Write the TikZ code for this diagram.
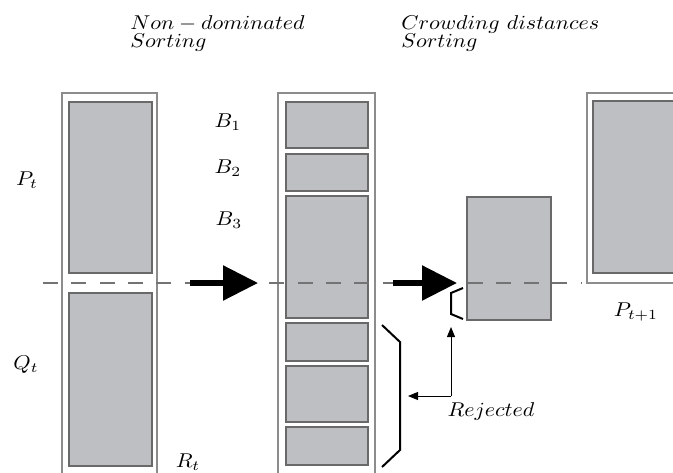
\documentclass[tikz,border=0pt]{standalone}
\usepackage{graphicx}
\usetikzlibrary{arrows.meta}
\definecolor{boxfill}{RGB}{190,191,194}
\definecolor{boxedge}{RGB}{105,105,105}
\definecolor{frameedge}{RGB}{140,140,140}
\definecolor{dashgray}{RGB}{115,115,115}
\newcommand\widetext[1]{\scalebox{1.1}[1]{#1}}
\begin{document}
\begin{tikzpicture}[x=0.5pt,y=-0.5pt,
  frame/.style={draw=frameedge,line width=0.65pt},
  block/.style={draw=boxedge,fill=boxfill,line width=0.7pt},
  bigarrow/.style={line width=2.8pt,-{Triangle[length=17.5pt,width=17pt]}},
  thinarrow/.style={line width=0.5pt,-{Triangle[length=5pt,width=4pt]}},
  bracketline/.style={line width=1pt},
  lab/.style={font=\fontsize{10}{11}\selectfont, inner sep=0pt},
  divider/.style={draw=dashgray,line width=0.7pt,dash pattern=on 7.5pt off 6.65pt},
]
\useasboundingbox (0,0) rectangle (673,472);
\begin{scope}
\clip (0,0) rectangle (673,472);
% left column R_t
\draw[frame] (62,93) rectangle (157,490);
\draw[block] (69,102) rectangle (152,273);
\draw[block] (69,293) rectangle (152,466);
% middle column
\draw[frame] (278,93) rectangle (375,490);
\draw[block] (286,102) rectangle (368,148);
\draw[block] (286,154) rectangle (368,191);
\draw[block] (286,196) rectangle (368,318);
\draw[block] (286,323) rectangle (368,361);
\draw[block] (286,366) rectangle (368,422);
\draw[block] (286,427) rectangle (368,465);
% selected part of last front
\draw[block] (467,197) rectangle (551,320);
% right column P_{t+1}
\draw[frame] (587,93) rectangle (700,283);
\draw[block] (593,101) rectangle (700,273);
\end{scope}
% dashed divider
\coordinate (dl) at (43,283);
\coordinate (dr) at (582,283);
\draw[divider] (dl) -- (dr);
% big arrows
\coordinate (a1s) at (190,283);
\coordinate (a1e) at (258,283);
\coordinate (a2s) at (393,283);
\coordinate (a2e) at (457,283);
\draw[bigarrow] (a1s) -- (a1e);
\draw[bigarrow] (a2s) -- (a2e);
% brackets
\coordinate (bb1) at (382,325);
\coordinate (bb2) at (400,342);
\coordinate (bb3) at (400,450);
\coordinate (bb4) at (382,467);
\draw[bracketline] (bb1) -- (bb2) -- (bb3) -- (bb4);
\coordinate (sb1) at (463,288);
\coordinate (sb2) at (451,293);
\coordinate (sb3) at (451,314);
\coordinate (sb4) at (463,319);
\draw[bracketline] (sb1) -- (sb2) -- (sb3) -- (sb4);
% labels
\node[lab] (pt) at (27,180) {\widetext{$P_t$}};
\node[lab] (qt) at (26,365) {\widetext{$Q_t$}};
\node[lab] (rt) at (188,462) {\widetext{$R_t$}};
\node[lab] (b1) at (228,122) {\widetext{$B_1$}};
\node[lab] (b2) at (228,168) {\widetext{$B_2$}};
\node[lab] (b3) at (229,220) {\widetext{$B_3$}};
\node[lab] (pt1) at (636,312) {\widetext{$P_{t+1}$}};
\node[lab] (rej) at (491,411) {\widetext{$Rejected$}};
\node[lab,anchor=base west] (t1a) at (130,29) {\widetext{$Non-dominated$}};
\node[lab,anchor=base west] (t1b) at (130,47) {\widetext{$Sorting$}};
\node[lab,anchor=base west] (t2a) at (401,29) {\widetext{$Crowding\ distances$}};
\node[lab,anchor=base west] (t2b) at (401,47) {\widetext{$Sorting$}};
% rejected pointers
\coordinate (rc) at (451,396);
\coordinate (rup) at (451,327);
\coordinate (rleft) at (408,396);
\draw[thinarrow] (rc) -- (rup);
\draw[thinarrow] (rc) -- (rleft);
\end{tikzpicture}
\end{document}
